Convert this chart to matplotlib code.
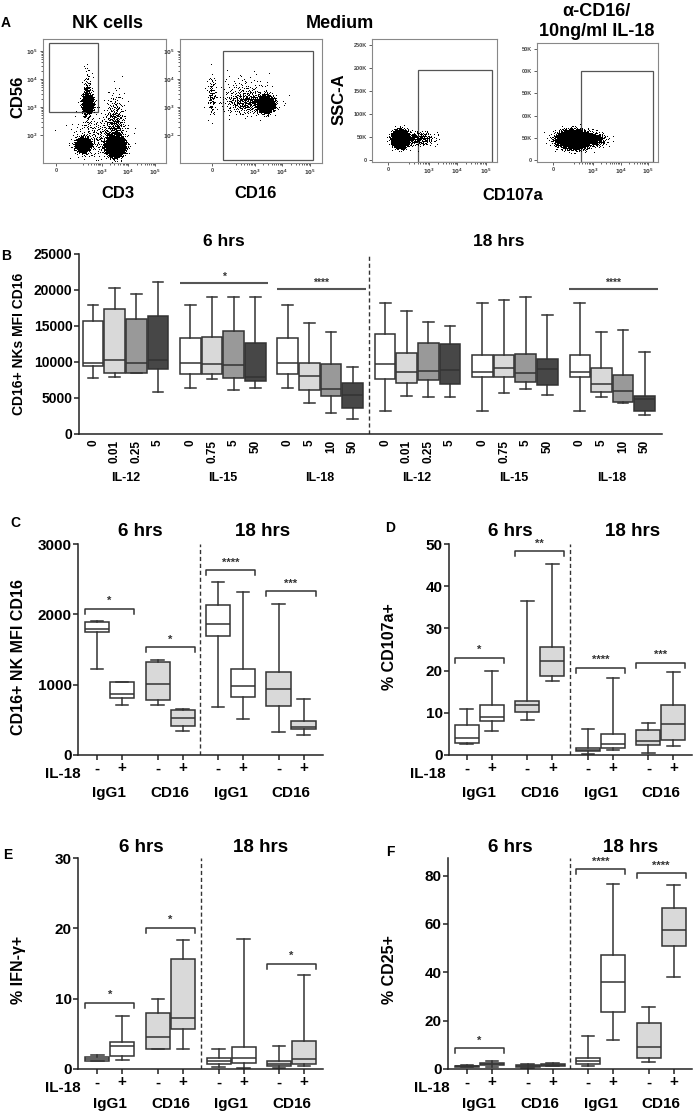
import numpy as np
import matplotlib
matplotlib.use('Agg')
import matplotlib.pyplot as plt
from matplotlib.patches import Rectangle

plt.rcParams['font.family'] = ['Liberation Sans', 'DejaVu Sans']
plt.rcParams['font.weight'] = 'bold'

# ---------------- DATA ----------------
# Panel A: flow cytometry populations (centre x, centre y, spread x, spread y, n events)
A1_clusters = [(2.48, 3.1, 0.1, 0.15, 1000), (2.45, 3.3, 0.08, 0.45, 250),
               (2.30, 1.62, 0.13, 0.12, 1400), (3.50, 1.57, 0.15, 0.15, 5000),
               (3.50, 2.3, 0.18, 0.55, 450), (2.9, 1.9, 0.5, 0.4, 350)]
A2_clusters = [(3.38, 3.08, 0.14, 0.13, 2200), (2.75, 3.15, 0.45, 0.22, 450),
               (1.42, 3.35, 0.07, 0.35, 110), (2.6, 3.6, 0.5, 0.3, 100)]
A3_clusters = [(2.00, 45, 0.13, 8, 3500), (2.6, 45, 0.3, 7.5, 300)]
A4_clusters = [(2.30, 45, 0.28, 9, 5500), (3.0, 45, 0.24, 7.5, 400)]
A1_gate = (1.04, 2.82, 2.85, 5.29)
A2_gate = (1.84, 1.10, 5.11, 5.00)
A3_gate = (2.61, -4, 5.21, 196)
A4_gate = (2.56, -4, 5.18, 200)

# Panel B: CD16 MFI box stats
B_groups = ['IL-12', 'IL-15', 'IL-18', 'IL-12', 'IL-15', 'IL-18']
B_doses = [['0', '0.01', '0.25', '5'], ['0', '0.75', '5', '50'], ['0', '5', '10', '50'],
           ['0', '0.01', '0.25', '5'], ['0', '0.75', '5', '50'], ['0', '5', '10', '50']]
B_lo = [7820, 7960, 8430, 5800, 6440, 7690, 6070, 6340, 6440, 4350, 2920, 2130,
        3240, 5280, 5190, 5190, 3240, 5740, 6200, 5420, 3240, 5190, 4310, 2590]
B_q1 = [9490, 8520, 8480, 9070, 8330, 8330, 7820, 7410, 8330, 6110, 5320, 3660,
        7690, 7080, 7500, 6900, 7870, 7870, 7180, 6760, 7870, 5790, 4440, 3190]
B_med = [9910, 10230, 9820, 10230, 9820, 9770, 9580, 7870, 9820, 8100, 6200, 5420,
         9680, 8570, 8800, 8840, 8570, 9210, 8470, 9070, 8570, 6950, 5970, 4910]
B_q3 = [15700, 17320, 15930, 16390, 13290, 13520, 14310, 12640, 13290, 9910, 9720, 7040,
        13940, 11300, 12590, 12450, 11020, 10930, 11160, 10370, 11020, 9210, 8200, 5320]
B_hi = [17920, 20330, 19400, 21160, 17920, 19080, 18980, 18980, 17920, 15460, 14120, 9260,
        18150, 17040, 15560, 15050, 18150, 18570, 19080, 16580, 18150, 14170, 14490, 11390]
B_sig = [(1, 20930, '*'), (2, 20090, '****'), (5, 20090, '****')]

# Panels C-F: 8 boxes each (IgG1 -, IgG1 +, CD16 -, CD16 +) x (6 hrs, 18 hrs)
C_lo = [1218, 716, 716, 346, 682, 507, 327, 284]
C_q1 = [1749, 806, 787, 412, 1692, 829, 697, 365]
C_med = [1787, 863, 1005, 521, 1867, 981, 943, 403]
C_q3 = [1891, 1043, 1327, 640, 2137, 1223, 1185, 483]
C_hi = [1905, 1043, 1346, 654, 2455, 2318, 2152, 796]
C_sig = [(0, 2081, '*'), (1, 1531, '*'), (2, 2630, '****'), (3, 2327, '***')]

D_lo = [2.6, 5.8, 8.3, 17.6, 0.2, 1.2, 0.5, 2.1]
D_q1 = [2.8, 8.0, 10.3, 18.8, 0.9, 1.6, 2.4, 3.5]
D_med = [4.0, 9.1, 11.8, 22.2, 1.3, 2.7, 3.4, 7.3]
D_q3 = [7.0, 11.9, 12.7, 25.6, 1.7, 5.0, 5.9, 11.8]
D_hi = [11.0, 20.0, 36.6, 45.3, 6.2, 18.2, 7.5, 19.6]
D_sig = [(0, 23.0, '*'), (1, 48.3, '**'), (2, 20.7, '****'), (3, 21.9, '***')]

E_lo = [1.1, 1.3, 2.8, 2.9, 0.3, 0.1, 0.2, 0.4]
E_q1 = [1.14, 1.85, 2.9, 5.65, 0.66, 0.9, 0.38, 0.66]
E_med = [1.42, 3.2, 4.5, 7.3, 1.2, 1.5, 0.76, 1.4]
E_q3 = [1.66, 3.8, 7.9, 15.7, 1.5, 3.1, 1.1, 4.0]
E_hi = [1.95, 7.6, 9.9, 18.3, 2.9, 18.5, 3.3, 13.4]
E_sig = [(0, 9.4, '*'), (1, 20.1, '*'), (3, 15.0, '*')]

F_lo = [0.7, 1.0, 0.3, 1.2, 1.4, 11.8, 3.0, 38.1]
F_q1 = [0.8, 1.5, 0.7, 1.2, 2.1, 23.5, 4.5, 50.9]
F_med = [1.1, 2.2, 1.1, 1.65, 3.2, 35.8, 9.1, 57.4]
F_q3 = [1.4, 2.6, 1.5, 2.2, 4.7, 47.0, 19.1, 66.6]
F_hi = [1.5, 3.4, 2.2, 2.3, 13.6, 76.7, 25.5, 76.3]
F_sig = [(0, 8.5, '*'), (2, 82.6, '****'), (3, 81.0, '****')]

CF_ticklabels = ['-', '+', '-', '+', '-', '+', '-', '+']
CF_groups = ['IgG1', 'CD16', 'IgG1', 'CD16']

# ---------------- FIGURE ----------------
W, H = 693, 1115
fig = plt.figure(figsize=(W / 100, H / 100), dpi=100)


def add_ax(l, t, r, b):
    return fig.add_axes([l / W, 1 - b / H, (r - l) / W, (b - t) / H])


def ftext(x, y, s, **kw):
    kw.setdefault('ha', 'center')
    kw.setdefault('va', 'center')
    kw.setdefault('fontweight', 'bold')
    fig.text(x / W, 1 - y / H, s, **kw)


def halton(n, base, start):
    out = np.zeros(n)
    for i in range(n):
        f, r, k = 1.0, 0.0, i + 1 + start
        while k > 0:
            f /= base
            r += f * (k % base)
            k //= base
        out[i] = r
    return out


def draw_events(ax, clusters):
    start = 0
    xs, ys = [], []
    for (cx, cy, sx, sy, n) in clusters:
        u1 = halton(n, 2, start)
        u2 = halton(n, 3, start)
        start += n
        r = np.sqrt(-2 * np.log(u1))
        th = 2 * np.pi * u2
        xs.append(cx + sx * r * np.cos(th))
        ys.append(cy + sy * r * np.sin(th))
    ax.plot(np.concatenate(xs), np.concatenate(ys), ',', color='black')


def style_flow(ax, xlim, ylim, zero_x, ylog, gate):
    ax.set_xlim(*xlim)
    ax.set_ylim(*ylim)
    for s in ax.spines.values():
        s.set_color('#888888')
        s.set_linewidth(0.8)
    ax.set_xticks([zero_x, 3, 4, 5])
    ax.set_xticklabels(['0', r'$10^3$', r'$10^4$', r'$10^5$'])
    minors = [np.log10(k * 10 ** d) for d in (2, 3, 4) for k in range(2, 10)]
    ax.set_xticks([m for m in minors if xlim[0] < m < xlim[1]], minor=True)
    if ylog:
        ax.set_yticks([2, 3, 4, 5])
        ax.set_yticklabels([r'$10^2$', r'$10^3$', r'$10^4$', r'$10^5$'])
        ax.set_yticks([m for m in minors if ylim[0] < m < ylim[1]], minor=True)
    ax.tick_params(which='both', labelsize=4, colors='#444444', length=2, width=0.6, pad=1.5)
    ax.tick_params(which='minor', length=1.2)
    x0, y0, x1, y1 = gate
    ax.add_patch(Rectangle((x0, y0), x1 - x0, y1 - y0, fill=False,
                           edgecolor='#555555', lw=0.9))


# Panel A
a1 = add_ax(43, 39, 166, 163)
draw_events(a1, A1_clusters)
style_flow(a1, (0.81, 5.4), (1.0, 5.43), 1.3, True, A1_gate)
a2 = add_ax(180, 39, 322, 163)
draw_events(a2, A2_clusters)
style_flow(a2, (0.27, 5.44), (1.0, 5.43), 1.44, True, A2_gate)
a3 = add_ax(372, 39, 497, 162)
draw_events(a3, A3_clusters)
style_flow(a3, (1.0, 5.39), (-4, 263), 1.56, False, A3_gate)
a3.set_yticks([0, 50, 100, 150, 200, 250])
a3.set_yticklabels(['0', '50K', '100K', '150K', '200K', '250K'])
a4 = add_ax(537, 43, 658, 162)
draw_events(a4, A4_clusters)
style_flow(a4, (0.96, 5.36), (-4, 263), 1.55, False, A4_gate)
a4.set_yticks([0, 50, 100, 150, 200, 250])
a4.set_yticklabels(['0', '50K', '00K', '50K', '00K', '50K'])
for a in (a3, a4):
    a.tick_params(which='both', labelsize=4, colors='#444444')

ftext(6, 23, 'A', fontsize=10)
ftext(107, 24, 'NK cells', fontsize=13)
ftext(340, 24, 'Medium', fontsize=13)
ftext(596, 11, 'α-CD16/', fontsize=13)
ftext(597, 32, '10ng/ml IL-18', fontsize=13)
ftext(18, 97, 'CD56', fontsize=12, rotation=90)
ftext(118, 194, 'CD3', fontsize=12)
ftext(256, 194, 'CD16', fontsize=12)
ftext(339, 99, 'SSC-A', fontsize=12, rotation=90)
ftext(513, 195, 'CD107a', fontsize=12)

LC = '#333333'
LW = 1.1


def boxes(ax, lo, q1, med, q3, hi, pos, colors, width, capw):
    stats = [dict(whislo=a, q1=b, med=c, q3=d, whishi=e)
             for a, b, c, d, e in zip(lo, q1, med, q3, hi)]
    bp = ax.bxp(stats, positions=pos, widths=width, patch_artist=True,
                showfliers=False, manage_ticks=False, capwidths=capw,
                boxprops=dict(edgecolor=LC, linewidth=LW),
                medianprops=dict(color=LC, linewidth=LW),
                whiskerprops=dict(color=LC, linewidth=LW),
                capprops=dict(color=LC, linewidth=LW))
    for p, c in zip(bp['boxes'], colors):
        p.set_facecolor(c)


def style_axes(ax):
    for s in ('top', 'right'):
        ax.spines[s].set_visible(False)
    for s in ('left', 'bottom'):
        ax.spines[s].set_linewidth(LW)
        ax.spines[s].set_color('#222222')
    ax.tick_params(axis='y', length=3.6, width=LW, color='#222222', pad=1)


# Panel B
axB = add_ax(79, 254, 662, 434)
B_pos = [g * 4.5 + i for g in range(6) for i in range(4)]
B_colors = ['white', '#d9d9d9', '#999999', '#474747'] * 6
boxes(axB, B_lo, B_q1, B_med, B_q3, B_hi, B_pos, B_colors, 0.95, 0.5)
axB.set_xlim(-0.65, 26.3)
axB.set_ylim(0, 25000)
axB.set_yticks([0, 5000, 10000, 15000, 20000, 25000])
style_axes(axB)
axB.tick_params(axis='y', labelsize=10)
axB.set_xticks(B_pos)
axB.set_xticklabels([d for grp in B_doses for d in grp], rotation=90, fontsize=8.5)
axB.tick_params(axis='x', length=0, pad=4)
axB.axvline(12.75, color=LC, lw=1.0, ls=(0, (3, 2)))
for g, y, s in B_sig:
    x0 = g * 4.5 - 0.5
    x1 = g * 4.5 + 3.6
    axB.plot([x0, x1], [y, y], color='#555555', lw=1.5, solid_capstyle='butt')
    axB.annotate(s, ((x0 + x1) / 2, y), xytext=(0, 5), textcoords='offset points',
                 ha='center', va='center', fontsize=7.5, color=LC)
for g, name in enumerate(B_groups):
    ftext(93 + (g * 4.5 + 1.5) * 21.6, 478, name, fontsize=9)
ftext(6, 256, 'B', fontsize=10)
ftext(224, 242, '6 hrs', fontsize=12.5)
ftext(499, 242, '18 hrs', fontsize=12.5)
ftext(19, 344, 'CD16+ NKs MFI CD16', fontsize=10, rotation=90)

# Panels C-F
CF_pos = [0, 1, 2.43, 3.43, 4.85, 5.85, 7.27, 8.27]
CF_colors = ['white', 'white', '#d9d9d9', '#d9d9d9'] * 2


def panel(rect, xlim, ylim, yticks, lo, q1, med, q3, hi, sig):
    l, t, r, b = rect
    ax = add_ax(l, t, r, b)
    boxes(ax, lo, q1, med, q3, hi, CF_pos, CF_colors, 0.96, 0.5)
    ax.set_xlim(*xlim)
    ax.set_ylim(*ylim)
    ax.set_yticks(yticks)
    style_axes(ax)
    ax.tick_params(axis='y', labelsize=11)
    ax.set_xticks(CF_pos)
    ax.set_xticklabels(CF_ticklabels, fontsize=11)
    ax.tick_params(axis='x', length=3.6, width=LW, color='#222222', pad=1)
    ax.axvline(4.14, color=LC, lw=1.0, ls=(0, (3, 2)))
    dy = 5.0 / (b - t) * (ylim[1] - ylim[0])
    for k, y, s in sig:
        x0 = CF_pos[2 * k] - 0.48
        x1 = CF_pos[2 * k + 1] + 0.48
        ax.plot([x0, x0, x1, x1], [y - dy, y, y, y - dy], color=LC, lw=LW)
        ax.annotate(s, ((x0 + x1) / 2, y), xytext=(0, 5.5), textcoords='offset points',
                    ha='center', va='center', fontsize=8, color=LC)
    return ax


panel((78, 544, 323, 755), (-0.75, 9.05), (0, 3000), [0, 1000, 2000, 3000],
      C_lo, C_q1, C_med, C_q3, C_hi, C_sig)
panel((449, 544, 692, 755), (-0.7, 9.01), (0, 50), [0, 10, 20, 30, 40, 50],
      D_lo, D_q1, D_med, D_q3, D_hi, D_sig)
panel((78, 858, 323, 1069), (-0.77, 9.03), (0, 30), [0, 10, 20, 30],
      E_lo, E_q1, E_med, E_q3, E_hi, E_sig)
panel((448, 858, 692, 1069), (-0.75, 9.0), (0, 87.3), [0, 20, 40, 60, 80],
      F_lo, F_q1, F_med, F_q3, F_hi, F_sig)

panel_texts = [
    ('C', 15, 523, 140, 263, 532, 81, 774, 793, 96.7, 'CD16+ NK MFI CD16', 19, 657),
    ('D', 390, 528, 510, 633, 532, 446, 774, 793, 466.7, '% CD107a+', 389, 647),
    ('E', 8, 855, 141, 261, 847, 81, 1088, 1104, 97.3, '% IFN-γ+', 19, 970),
    ('F', 390, 852, 510, 631, 847, 450, 1088, 1104, 466.7, '% CD25+', 389, 970)]
for (lt, lx, ly, x6, x18, ty, ilx, ily, gy, origin, ylab, ylx, yly) in panel_texts:
    ftext(lx, ly, lt, fontsize=10)
    ftext(x6, ty, '6 hrs', fontsize=13.5)
    ftext(x18, ty, '18 hrs', fontsize=13.5)
    ftext(ilx, ily, 'IL-18', fontsize=11, ha='right')
    for k, name in enumerate(CF_groups):
        cx = origin + 25 * (CF_pos[2 * k] + CF_pos[2 * k + 1]) / 2
        ftext(cx, gy, name, fontsize=11)
    ftext(ylx, yly, ylab, fontsize=11.5, rotation=90)

fig.savefig('out.png', dpi=100)
